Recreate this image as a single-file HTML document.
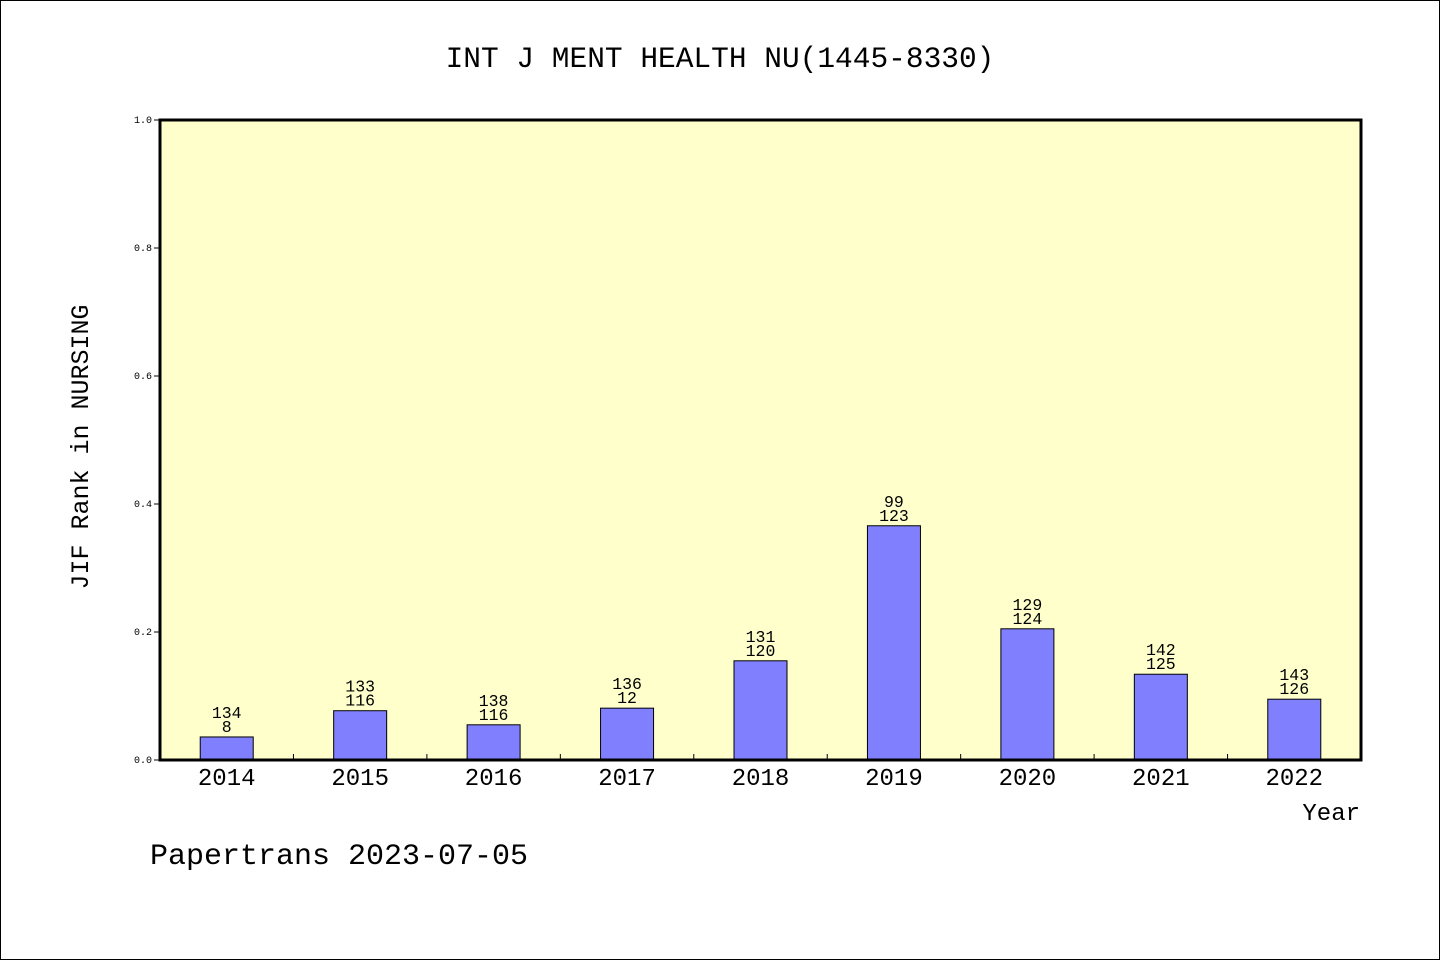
<!DOCTYPE html>
<html><head><meta charset="utf-8"><style>
html,body{margin:0;padding:0;background:#fff}
svg{display:block}
text{font-family:"Liberation Mono","DejaVu Sans Mono",monospace;fill:#000}
</style></head><body>
<svg id="chart" width="1440" height="960" xmlns="http://www.w3.org/2000/svg">
<rect x="0.5" y="0.5" width="1439" height="959" fill="#fff" stroke="#000"/>
<text x="720" y="67" font-size="29.5" text-anchor="middle">INT J MENT HEALTH NU(1445-8330)</text>
<rect x="160" y="120" width="1201" height="640" fill="#ffffcc"/>
<g id="yticks"></g>
<g id="bars"></g>
<rect x="160" y="120" width="1201" height="640" fill="none" stroke="#000" stroke-width="3"/>
<text transform="translate(88,447) rotate(-90)" font-size="25" text-anchor="middle">JIF Rank in NURSING</text>
<text x="1360" y="820" font-size="24" text-anchor="end">Year</text>
<text x="150" y="864" font-size="30">Papertrans 2023-07-05</text>
</svg>
<script>
const categories=["2014","2015","2016","2017","2018","2019","2020","2021","2022"];
const values=[0.036,0.077,0.055,0.081,0.155,0.366,0.205,0.134,0.095];
const totals=["134","133","138","136","131","99","129","142","143"];
const ranks=["8","116","116","12","120","123","124","125","126"];
const yTicks=[0,0.2,0.4,0.6,0.8,1.0];
const yTickLabels=["0.0","0.2","0.4","0.6","0.8","1.0"];
const NS="http://www.w3.org/2000/svg";
const L=160,R=1361,T=120,B=760;
const y=v=>B-(v/1.0)*(B-T);
const slot=(R-L)/categories.length;
const xc=i=>L+slot*(i+0.5);
function mk(tag,attrs,parent){const e=document.createElementNS(NS,tag);for(const k in attrs)e.setAttribute(k,attrs[k]);parent.appendChild(e);return e;}
const yg=document.getElementById('yticks');
yTicks.forEach((t,i)=>{
 const ln=mk('line',{x1:L-6,x2:L,y1:y(t),y2:y(t),stroke:'#000'},yg);
 
 
 const tx=mk('text',{x:L-8,y:y(t)+3,'font-size':10,'text-anchor':'end'},yg);
 tx.textContent=yTickLabels[i];
 
 
});
const bg=document.getElementById('bars');
categories.forEach((c,i)=>{
 if(i>0){
  const tk=mk('line',{x1:L+slot*i,x2:L+slot*i,y1:B,y2:B-6,stroke:'#000'},bg);
  
  
 }
 const w=53,top=y(values[i]);
 const r=mk('rect',{x:xc(i)-w/2,y:top,width:w,height:B-top,fill:'#8080ff',stroke:'#000','stroke-width':1},bg);
 
 
 const t1=mk('text',{x:xc(i),y:top-19,'font-size':16.5,'text-anchor':'middle'},bg);
 t1.textContent=totals[i];
 
 
 const t2=mk('text',{x:xc(i),y:top-5,'font-size':16.5,'text-anchor':'middle'},bg);
 t2.textContent=ranks[i];
 
 
 const xl=mk('text',{x:xc(i),y:785,'font-size':24,'text-anchor':'middle'},bg);
 xl.textContent=c;
 
 
});
</script>
</body></html>
